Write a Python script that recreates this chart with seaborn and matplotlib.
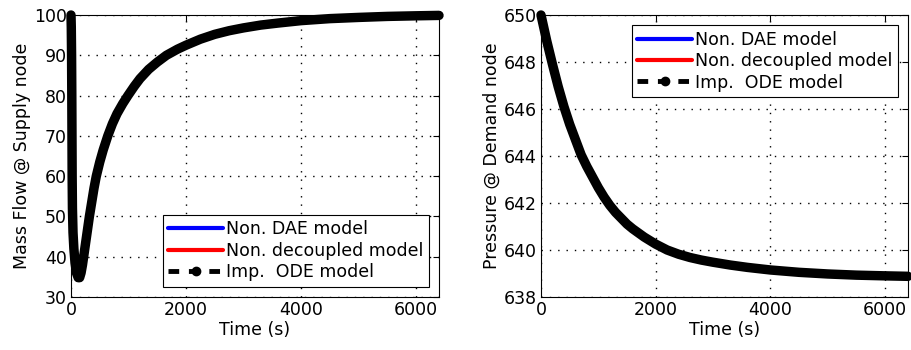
import matplotlib
matplotlib.use("Agg")
import matplotlib.pyplot as plt
import seaborn as sns
import pandas as pd
from matplotlib.lines import Line2D

# ---- data ----
time_mass = [0, 5, 10, 14, 17, 20, 25, 35, 50, 70, 95, 125, 150, 175, 200, 230, 260,
             290, 320, 360, 400, 440, 500, 560, 640, 720, 800, 900, 990, 1100, 1200,
             1350, 1500, 1660, 1850, 2000, 2250, 2500, 2750, 3000, 3300, 3600, 4000,
             4500, 5000, 5500, 6000, 6400]
mass_flow = [100, 97, 90, 80, 70, 60, 52, 46, 42, 38.5, 36, 34.8, 34.8, 36, 38, 41,
             44, 47, 50, 53.5, 57, 60, 63.5, 66.5, 70, 73, 75.5, 78, 80, 82.3, 84.2,
             86.5, 88.3, 90, 91.5, 92.5, 94, 95.2, 96.1, 96.8, 97.5, 98, 98.6,
             99.1, 99.4, 99.65, 99.8, 99.9]

time_press = [0, 50, 100, 150, 200, 300, 400, 500, 600, 700, 800, 900, 1000, 1100,
              1200, 1300, 1400, 1500, 1600, 1800, 2000, 2200, 2400, 2600, 2800, 3000,
              3300, 3600, 4000, 4500, 5000, 5500, 6000, 6400]
pressure = [650, 649.45, 648.9, 648.4, 647.9, 646.95, 646.1, 645.35, 644.7, 644.05,
            643.55, 643.1, 642.65, 642.25, 641.9, 641.6, 641.35, 641.1, 640.9,
            640.55, 640.25, 640.0, 639.82, 639.68, 639.57, 639.48, 639.36, 639.26,
            639.15, 639.05, 638.98, 638.93, 638.9, 638.88]

series_names = ["Non. DAE model", "Non. decoupled model", "Imp.  ODE model"]
series_colors = ["#0000ff", "#ff0000", "#000000"]

time_ticks = [0, 2000, 4000, 6000]
mass_yticks = [30, 40, 50, 60, 70, 80, 90, 100]
press_yticks = [638, 640, 642, 644, 646, 648, 650]

FS = 12.5

sns.set_style("white")
plt.rcParams["font.family"] = ["DejaVu Sans"]
plt.rcParams["text.color"] = "black"
plt.rcParams["axes.labelcolor"] = "black"
plt.rcParams["xtick.color"] = "black"
plt.rcParams["ytick.color"] = "black"

fig = plt.figure(figsize=(9.11, 3.5), dpi=100)
ax1 = fig.add_axes([71/911, 53/350, 368/911, 282/350])
ax2 = fig.add_axes([541/911, 53/350, 367/911, 282/350])

df_m = pd.DataFrame({"t": time_mass, "v": mass_flow})
df_p = pd.DataFrame({"t": time_press, "v": pressure})


def draw(ax, df):
    # blue and red series lie under the black one, as in the reference
    sns.lineplot(data=df, x="t", y="v", ax=ax, color=series_colors[0], lw=2.5,
                 estimator=None, sort=False)
    sns.lineplot(data=df, x="t", y="v", ax=ax, color=series_colors[1], lw=2.5,
                 estimator=None, sort=False)
    sns.lineplot(data=df, x="t", y="v", ax=ax, color=series_colors[2], lw=6.8,
                 estimator=None, sort=False, solid_capstyle="round",
                 solid_joinstyle="round", clip_on=False, zorder=5)


draw(ax1, df_m)
draw(ax2, df_p)

for ax in (ax1, ax2):
    ax.set_xlim(0, 6400)
    ax.set_xticks(time_ticks)
    ax.set_xlabel("Time (s)", fontsize=FS, labelpad=1, color="black")
    ax.grid(True, color="black", linestyle=(0, (1, 5)), linewidth=1.0)
    ax.tick_params(direction="in", length=4, width=0.8, top=True, right=True,
                   labelsize=FS, pad=3, colors="black")
    for s in ax.spines.values():
        s.set_color("black")
        s.set_linewidth(0.8)

ax1.set_ylim(30, 100)
ax1.set_yticks(mass_yticks)
ax1.set_ylabel("Mass Flow @ Supply node", fontsize=FS, labelpad=2, color="black")

ax2.set_ylim(638, 650)
ax2.set_yticks(press_yticks)
ax2.set_ylabel("Pressure @ Demand node", fontsize=FS, labelpad=2, color="black")

handles = [
    Line2D([], [], color=series_colors[0], lw=3),
    Line2D([], [], color=series_colors[1], lw=3),
    Line2D([], [], color=series_colors[2], lw=3.5, ls=(0, (2.2, 2.0)), marker="o",
           markersize=6),
]

for ax, loc, anchor in ((ax1, "lower right", (1.0, 0.0)), (ax2, "upper right", (1.0, 1.0))):
    leg = ax.legend(handles, series_names, loc=loc, bbox_to_anchor=anchor,
                    fontsize=FS, handlelength=3.2, handletextpad=0.15,
                    borderpad=0.3, labelspacing=0.2, fancybox=False,
                    framealpha=1, edgecolor="black", borderaxespad=0.6,
                    labelcolor="black")
    leg.get_frame().set_linewidth(0.8)
    leg.set_zorder(10)

fig.savefig("out.png", dpi=100, facecolor="white")
